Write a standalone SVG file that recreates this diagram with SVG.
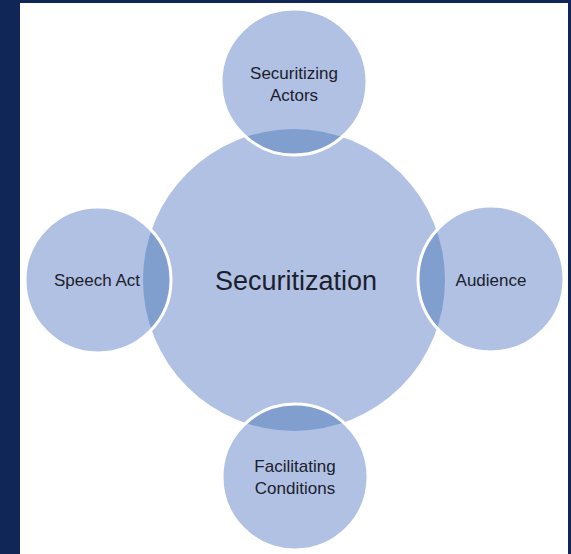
<svg xmlns="http://www.w3.org/2000/svg" width="571" height="554" viewBox="0 0 571 554">
  <style>
    .base { fill: #B0C1E4; }
    .lens { fill: #819FCE; }
    .ring { fill: none; stroke: #FFFFFF; stroke-width: 3; }
    .lbl { font-family: "Liberation Sans", Arial, sans-serif; font-size: 17px; fill: #1C202B; text-anchor: middle; }
    .main { font-family: "Liberation Sans", Arial, sans-serif; font-size: 27px; fill: #1C202B; text-anchor: middle; }
  </style>
  <defs>
    <clipPath id="bigClip">
      <circle cx="294" cy="280" r="151"/>
    </clipPath>
  </defs>
  <rect x="0" y="0" width="571" height="554" fill="#0F2657"/>
  <rect x="20" y="3" width="548" height="551" fill="#FFFFFF"/>

  <g id="securitization">
    <circle class="base" cx="294" cy="280" r="151"/>
    <text class="main" x="296" y="290">Securitization</text>
  </g>

  <g id="securitizing-actors">
    <circle class="base" cx="294" cy="82" r="73"/>
    <circle class="lens" cx="294" cy="82" r="73" clip-path="url(#bigClip)"/>
    <circle class="ring" cx="294" cy="82" r="73"/>
    <text class="lbl" x="294" y="79">Securitizing</text>
    <text class="lbl" x="294" y="101">Actors</text>
  </g>

  <g id="audience">
    <circle class="base" cx="491" cy="279" r="73"/>
    <circle class="lens" cx="491" cy="279" r="73" clip-path="url(#bigClip)"/>
    <circle class="ring" cx="491" cy="279" r="73"/>
    <text class="lbl" x="491" y="286">Audience</text>
  </g>

  <g id="speech-act">
    <circle class="base" cx="98" cy="280" r="73"/>
    <circle class="lens" cx="98" cy="280" r="73" clip-path="url(#bigClip)"/>
    <circle class="ring" cx="98" cy="280" r="73"/>
    <text class="lbl" x="97" y="286">Speech Act</text>
  </g>

  <g id="facilitating-conditions">
    <circle class="base" cx="295" cy="477" r="73"/>
    <circle class="lens" cx="295" cy="477" r="73" clip-path="url(#bigClip)"/>
    <circle class="ring" cx="295" cy="477" r="73"/>
    <text class="lbl" x="295" y="472">Facilitating</text>
    <text class="lbl" x="295" y="494">Conditions</text>
  </g>
</svg>
